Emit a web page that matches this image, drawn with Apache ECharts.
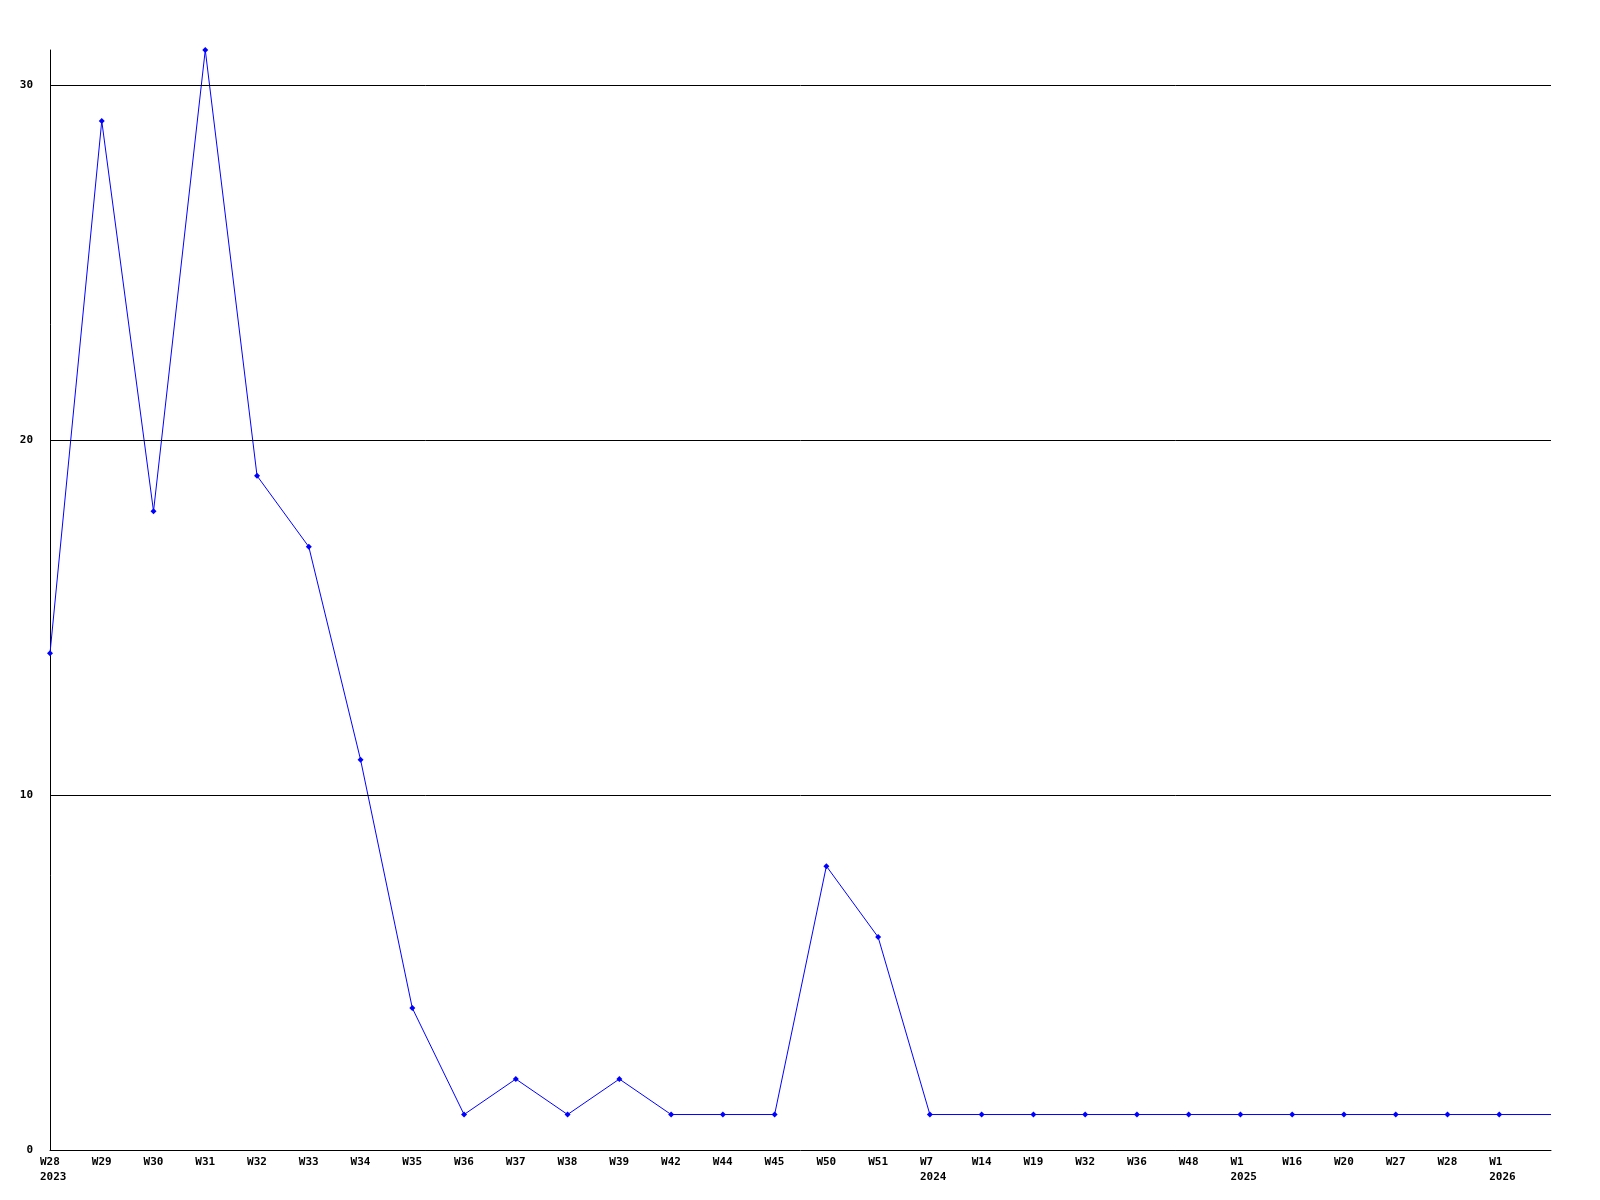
<!DOCTYPE html>
<html>
<head>
<meta charset="utf-8">
<script src="https://cdn.jsdelivr.net/npm/echarts@6/dist/echarts.min.js"></script>
<style>
    html, body { margin: 0; padding: 0; background: #fff; }
    #chart { width: 1600px; height: 1200px; }
</style>
</head>
<body>
<div id="chart"></div>
<script>
    // weeks along the x axis, year shown under the first week of each year
    const weeks = ['W28', 'W29', 'W30', 'W31', 'W32', 'W33', 'W34', 'W35', 'W36', 'W37',
        'W38', 'W39', 'W42', 'W44', 'W45', 'W50', 'W51', 'W7', 'W14', 'W19',
        'W32', 'W36', 'W48', 'W1', 'W16', 'W20', 'W27', 'W28', 'W1', ''];
    const years = ['2023', '', '', '', '', '', '', '', '', '',
        '', '', '', '', '', '', '', '2024', '', '',
        '', '', '', '2025', '', '', '', '', '2026', ''];
    const counts = [14, 29, 18, 31, 19, 17, 11, 4, 1, 2,
        1, 2, 1, 1, 1, 8, 6, 1, 1, 1,
        1, 1, 1, 1, 1, 1, 1, 1, 1, 1];
    const yTicks = [10, 20, 30];

    const labels = weeks.map((w, i) => years[i] ? w + '\n' + years[i] : w);
    const font = 'DejaVu Sans Mono';

    const chart = echarts.init(document.getElementById('chart'));
    chart.setOption({
        animation: false,
        grid: {
            left: 50,
            right: 49,
            top: 50,
            bottom: 50
        },
        xAxis: {
            type: 'category',
            data: labels,
            boundaryGap: false,
            axisLine: { lineStyle: { color: '#000', width: 1 } },
            axisTick: { show: false },
            axisLabel: {
                interval: 0,
                align: 'left',
                padding: [0, 0, 0, -10],
                margin: 5,
                lineHeight: 15,
                color: '#000',
                fontFamily: font,
                fontWeight: 'bold',
                fontSize: 11
            },
            splitLine: { show: false }
        },
        yAxis: {
            type: 'value',
            min: 0,
            max: 31,
            interval: 10,
            axisLine: { show: true, lineStyle: { color: '#000', width: 1 } },
            axisTick: { show: false },
            splitLine: { show: false },
            axisLabel: {
                margin: 17,
                color: '#000',
                fontFamily: font,
                fontWeight: 'bold',
                fontSize: 11,
                formatter: v => (v % 10 === 0 ? String(v) : '')
            }
        },
        series: [{
            type: 'line',
            data: counts.map((v, i) => i === counts.length - 1 ? { value: v, symbol: 'none' } : v),
            symbol: 'diamond',
            symbolSize: 6,
            showAllSymbol: true,
            lineStyle: { color: '#0000ff', width: 1 },
            itemStyle: { color: '#0000ff' },
            markLine: {
                silent: true,
                symbol: 'none',
                label: { show: false },
                lineStyle: { color: '#000', width: 1, type: 'solid' },
                data: yTicks.map(t => ({ yAxis: t }))
            },
            z: 3
        }]
    });
</script>
</body>
</html>
